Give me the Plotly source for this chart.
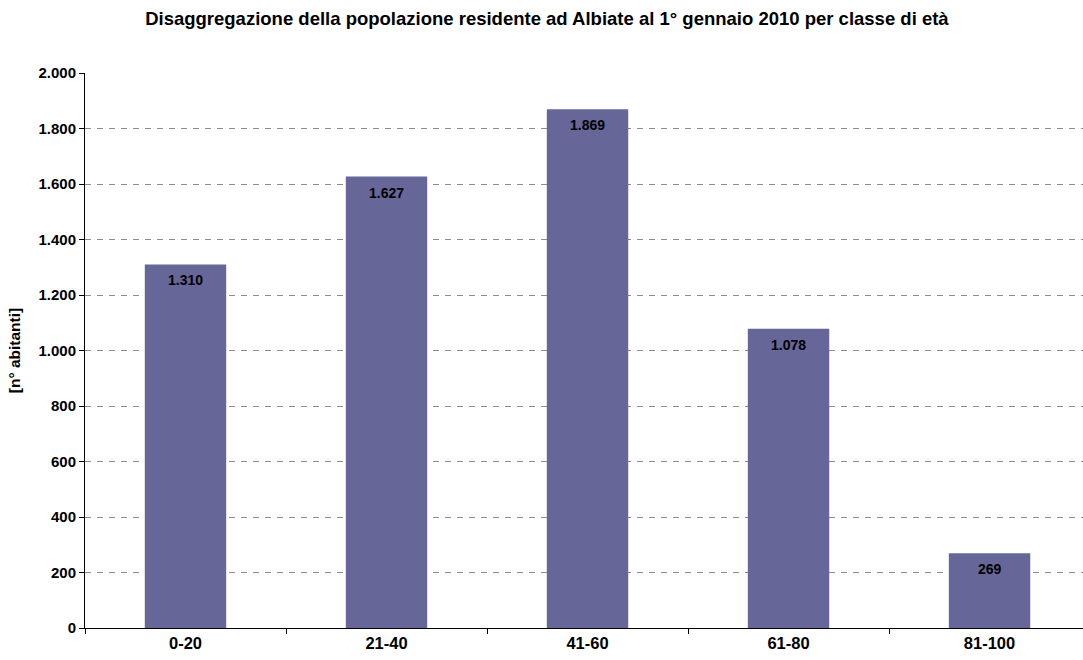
import plotly.graph_objects as go

# Residents of Albiate on 1 January 2010, by age class
classi = ["0-20", "21-40", "41-60", "61-80", "81-100"]
abitanti = [1310, 1627, 1869, 1078, 269]
y_ticks = [0, 200, 400, 600, 800, 1000, 1200, 1400, 1600, 1800, 2000]

font_family = "Liberation Sans, Arial, sans-serif"


def bold(size):
    return dict(family=font_family, size=size, color="#000000", weight="bold")


fig = go.Figure(
    go.Bar(
        x=classi,
        y=abitanti,
        marker=dict(color="#666699", line=dict(width=0)),
        hoverinfo="skip",
    )
)

# value labels just below the top of each bar
for cls, val in zip(classi, abitanti):
    fig.add_annotation(
        x=cls,
        y=val,
        text=f"{val:,d}".replace(",", "."),
        showarrow=False,
        yanchor="middle",
        xanchor="center",
        yshift=-16,
        font=bold(14),
    )

fig.update_layout(
    width=1083,
    height=660,
    margin=dict(l=85, r=0, t=73, b=32),
    paper_bgcolor="white",
    plot_bgcolor="white",
    separators=",.",
    bargap=0.595,
    showlegend=False,
    font=dict(family=font_family, color="#000000"),
    title=dict(
        text="Disaggregazione della popolazione residente ad Albiate al 1° gennaio 2010 per classe di età",
        x=0.505,
        xanchor="center",
        y=0.972,
        yanchor="middle",
        font=bold(18.5),
    ),
    xaxis=dict(
        type="category",
        range=[-0.5, 4.465],
        tickson="boundaries",
        ticks="outside",
        ticklen=5,
        tickcolor="#000000",
        showline=True,
        linecolor="#000000",
        linewidth=1,
        showgrid=False,
        tickfont=bold(16.5),
    ),
    yaxis=dict(
        range=[0, 2000],
        tickmode="array",
        tickvals=y_ticks,
        tickformat=",d",
        ticks="outside",
        ticklen=5,
        tickcolor="#000000",
        showline=True,
        linecolor="#000000",
        linewidth=1,
        showgrid=True,
        gridcolor="#8c8c8c",
        griddash="6px,6px",
        gridwidth=1,
        zeroline=False,
        tickfont=bold(15),
        title=dict(
            text="[n° abitanti]",
            font=bold(15.5),
            standoff=14,
        ),
    ),
)

fig.write_html("out.html")
